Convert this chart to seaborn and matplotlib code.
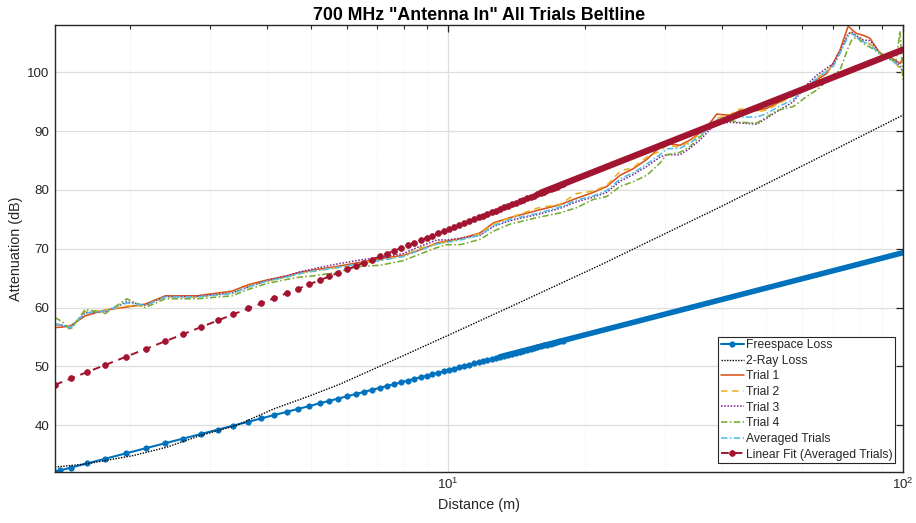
import matplotlib
matplotlib.use("Agg")
import matplotlib.pyplot as plt
import seaborn as sns

# ---------------- data ----------------
# Freespace loss, sample points shown as markers
fs_dist = [1.372, 1.409, 1.488, 1.615, 1.769, 1.967, 2.174, 2.396, 2.624, 2.874,
           3.132, 3.379, 3.645, 3.893, 4.157, 4.440, 4.692, 4.962, 5.245, 5.489,
           5.743, 6.01, 6.28, 6.55, 6.82, 7.09, 7.36, 7.63, 7.90, 8.17,
           8.44, 8.71, 8.98, 9.25, 9.52, 9.79, 10.06, 10.33, 10.60, 10.87,
           11.14, 11.41, 11.68, 11.95, 12.22, 12.49, 12.76, 13.03, 13.30, 13.57,
           13.84, 14.11, 14.38, 14.65, 14.92, 15.19, 15.46, 15.73, 16.00, 16.27,
           16.54, 16.81, 17.08, 17.35, 17.62, 17.89]
fs_loss = [32.10, 32.33, 32.80, 33.51, 34.30, 35.23, 36.10, 36.94, 37.73, 38.52,
           39.27, 39.93, 40.58, 41.16, 41.73, 42.30, 42.78, 43.26, 43.75, 44.14,
           44.53, 44.93, 45.31, 45.67, 46.03, 46.36, 46.69, 47.00, 47.30, 47.59,
           47.88, 48.15, 48.42, 48.67, 48.92, 49.17, 49.40, 49.63, 49.86, 50.07,
           50.29, 50.50, 50.70, 50.90, 51.09, 51.28, 51.47, 51.65, 51.83, 52.00,
           52.17, 52.34, 52.51, 52.67, 52.83, 52.98, 53.13, 53.28, 53.43, 53.58,
           53.72, 53.86, 54.00, 54.14, 54.27, 54.40]
# dense part (markers merge into a solid band)
fs_band_dist = [13.0, 100.0]
fs_band_loss = [51.63, 69.35]

# 2-ray loss
tr_dist = [1.372, 1.613, 2.041, 2.416, 2.860, 3.443, 4.142, 4.986, 5.801,
           7.08, 9.95, 14.13, 21.59, 39.8, 63.1, 100.0]
tr_loss = [32.88, 33.44, 34.85, 36.27, 38.24, 40.00, 42.76, 45.02, 47.00,
           50.00, 55.19, 60.60, 67.22, 77.18, 84.94, 92.76]

# Measured trials
trial_dist = [1.372, 1.424, 1.483, 1.599, 1.769, 1.974, 2.166, 2.396, 2.812, 3.357,
              3.650, 4.006, 4.434, 4.740, 5.070, 5.610, 6.420, 7.101, 7.990, 8.551,
              9.460, 9.950, 10.64, 11.77, 12.59, 13.70, 15.68, 17.64, 19.19, 20.87,
              22.34, 23.89, 25.51, 27.34, 29.24, 30.25, 32.35, 34.02, 35.79, 37.64,
              38.94, 41.64, 43.81, 47.68, 50.13, 52.73, 57.36, 61.38, 64.54, 67.88,
              70.19, 72.61, 75.72, 77.04, 79.00, 81.68, 84.50, 88.89, 93.49, 96.38,
              98.35, 100.0]
trial1 = [56.6, 56.7, 56.9, 58.6, 59.6, 60.1, 60.6, 62.0, 62.0, 62.8,
          63.9, 64.7, 65.4, 66.0, 66.4, 66.9, 67.7, 68.3, 68.9, 69.6,
          71.0, 71.3, 71.7, 72.7, 74.4, 75.3, 76.5, 77.5, 78.6, 79.6,
          80.6, 82.5, 83.6, 85.2, 87.3, 87.9, 87.6, 88.5, 89.7, 91.4,
          92.9, 92.7, 93.5, 93.5, 93.9, 94.7, 96.2, 97.0, 98.7, 99.8,
          101.6, 103.8, 107.9, 107.3, 106.6, 106.3, 105.8, 103.2, 102.6, 102.0,
          101.5, 102.5]
trial2 = [57.0, 57.0, 56.6, 59.3, 59.6, 60.3, 60.3, 61.9, 61.8, 62.5,
          63.6, 64.5, 65.2, 65.8, 66.2, 66.7, 67.4, 68.1, 68.7, 70.0,
          70.8, 71.2, 71.6, 72.6, 74.2, 75.3, 76.9, 77.6, 79.4, 79.8,
          80.8, 83.2, 83.8, 85.6, 86.6, 87.6, 87.3, 88.3, 89.5, 91.0,
          92.2, 92.8, 93.8, 93.3, 93.6, 94.5, 96.0, 97.3, 99.0, 100.2,
          101.2, 103.5, 106.5, 106.8, 106.2, 105.4, 104.8, 103.4, 102.3, 101.5,
          100.5, 99.5]
trial3 = [57.3, 57.0, 56.5, 59.1, 59.3, 61.0, 60.4, 61.9, 61.9, 62.5,
          63.5, 64.6, 65.4, 66.1, 66.6, 67.3, 68.1, 68.5, 69.2, 70.2,
          71.5, 71.5, 71.8, 72.3, 73.8, 74.8, 75.8, 76.9, 78.0, 78.8,
          79.6, 81.5, 82.6, 84.0, 85.6, 86.0, 86.0, 87.1, 88.5, 90.3,
          91.3, 91.5, 91.4, 91.2, 92.2, 93.3, 95.0, 97.9, 99.5, 100.7,
          101.5, 103.5, 106.6, 106.8, 106.2, 105.5, 105.4, 103.3, 102.2, 101.8,
          101.0, 100.0]
trial4 = [58.3, 57.6, 56.2, 59.7, 59.0, 61.5, 60.0, 61.5, 61.5, 62.0,
          63.1, 64.1, 64.8, 65.2, 65.4, 65.9, 67.0, 67.2, 68.0, 68.9,
          70.2, 70.7, 70.7, 71.6, 73.0, 74.2, 75.3, 76.1, 77.0, 78.4,
          78.9, 80.6, 81.4, 82.5, 84.6, 86.0, 86.4, 87.4, 89.0, 90.8,
          91.7, 91.8, 91.5, 91.4, 92.4, 93.5, 94.2, 95.9, 97.0, 98.5,
          99.6, 100.4, 104.2, 105.5, 106.0, 104.9, 104.3, 103.2, 102.3, 101.8,
          107.0, 98.5]
trial_avg = [57.2, 57.0, 56.6, 59.1, 59.4, 60.8, 60.4, 61.8, 61.8, 62.4,
             63.5, 64.5, 65.2, 65.8, 66.2, 66.7, 67.5, 68.0, 68.7, 69.6,
             70.8, 71.1, 71.5, 72.3, 73.9, 75.0, 76.0, 77.1, 78.3, 79.0,
             79.9, 81.9, 82.9, 84.4, 86.0, 87.0, 87.1, 88.0, 89.2, 90.8,
             92.0, 92.2, 92.4, 92.4, 93.0, 94.0, 95.4, 97.4, 99.0, 100.2,
             101.0, 103.2, 106.2, 106.6, 106.0, 105.2, 104.7, 103.1, 102.2, 101.5,
             101.2, 100.5]

# Linear fit of averaged trials (marker points + dense band)
fit_dist = [1.372, 1.488, 1.615, 1.769, 1.967, 2.174, 2.396, 2.624, 2.874, 3.132,
            3.379, 3.645, 3.893, 4.157, 4.440, 4.692, 4.962, 5.245, 5.489, 5.743,
            6.01, 6.28, 6.55, 6.82, 7.09, 7.36, 7.63, 7.90, 8.17, 8.44,
            8.71, 8.98, 9.25, 9.52, 9.79, 10.06, 10.33, 10.60, 10.87, 11.14,
            11.41, 11.68, 11.95, 12.22, 12.49, 12.76, 13.03, 13.30, 13.57, 13.84,
            14.11, 14.38, 14.65, 14.92, 15.19, 15.46, 15.73, 16.00, 16.27, 16.54,
            16.81, 17.08, 17.35, 17.62, 17.89]
fit_loss = [46.87, 47.95, 49.04, 50.25, 51.66, 52.99, 54.28, 55.49, 56.70, 57.84,
            58.85, 59.86, 60.73, 61.61, 62.48, 63.21, 63.96, 64.69, 65.30, 65.90,
            66.50, 67.09, 67.65, 68.18, 68.70, 69.20, 69.68, 70.14, 70.58, 71.02,
            71.43, 71.84, 72.23, 72.62, 72.99, 73.35, 73.70, 74.04, 74.38, 74.70,
            75.02, 75.33, 75.64, 75.93, 76.22, 76.51, 76.79, 77.06, 77.33, 77.59,
            77.85, 78.10, 78.34, 78.59, 78.83, 79.06, 79.29, 79.52, 79.74, 79.96,
            80.17, 80.38, 80.59, 80.80, 81.00]
fit_band_dist = [16.0, 100.0]
fit_band_loss = [79.52, 103.87]

x_ticks = [10, 100]
y_ticks = [40, 50, 60, 70, 80, 90, 100]

# ---------------- style ----------------
sns.set_theme(style="white")
plt.rcParams["font.family"] = ["Liberation Sans", "DejaVu Sans"]
plt.rcParams["mathtext.fontset"] = "custom"
plt.rcParams["mathtext.rm"] = "Liberation Sans"
plt.rcParams["mathtext.it"] = "Liberation Sans"

C_FS = "#0072BD"
C_T1 = "#D95319"
C_T2 = "#EDB120"
C_T3 = "#7E2F8E"
C_T4 = "#77AC30"
C_AV = "#4DBEEE"
C_FIT = "#A2142F"
DARK = "#262626"

fig = plt.figure(figsize=(9.16, 5.23), dpi=100)
ax = fig.add_axes([0.0600, 0.0981, 0.9261, 0.8535])

common = dict(ax=ax, estimator=None, sort=False)

sns.lineplot(x=fs_band_dist, y=fs_band_loss, color=C_FS, linewidth=4.0,
             solid_capstyle="round", label="_nolegend_", legend=False, **common)
sns.lineplot(x=fs_dist, y=fs_loss, color=C_FS, linewidth=1.5, marker="o",
             markersize=3.9, markeredgewidth=0.5, markeredgecolor=C_FS,
             label="Freespace Loss", **common)
sns.lineplot(x=tr_dist, y=tr_loss, color="black", linewidth=1.0, linestyle=(0, (1, 1)),
             label="2-Ray Loss", **common)
sns.lineplot(x=trial_dist, y=trial1, color=C_T1, linewidth=1.15, linestyle="-",
             label="Trial 1", **common)
sns.lineplot(x=trial_dist, y=trial2, color=C_T2, linewidth=1.15, linestyle=(0, (4, 3)),
             label="Trial 2", **common)
sns.lineplot(x=trial_dist, y=trial3, color=C_T3, linewidth=1.15, linestyle=(0, (1, 1)),
             label="Trial 3", **common)
sns.lineplot(x=trial_dist, y=trial4, color=C_T4, linewidth=1.15, linestyle=(0, (4, 1.5, 1, 1.5)),
             label="Trial 4", **common)
sns.lineplot(x=trial_dist, y=trial_avg, color=C_AV, linewidth=1.15, linestyle=(0, (4, 1.5, 1, 1.5)),
             label="Averaged Trials", **common)
sns.lineplot(x=fit_band_dist, y=fit_band_loss, color=C_FIT, linewidth=4.6,
             solid_capstyle="round", label="_nolegend_", legend=False, **common)
sns.lineplot(x=fit_dist, y=fit_loss, color=C_FIT, linewidth=1.4, linestyle=(0, (4, 3)),
             marker="o", markersize=4.2, markeredgewidth=0.5, markeredgecolor=C_FIT,
             label="Linear Fit (Averaged Trials)", **common)

ax.set_xscale("log")
ax.set_xlim(1.372, 100)
ax.set_ylim(32.10, 108.0)
ax.set_xticks(x_ticks)
ax.set_yticks(y_ticks)

ax.grid(True, which="major", color="#dedede", linewidth=0.9)
ax.grid(True, which="minor", axis="x", color="#e4e4e4", linewidth=0.6, linestyle=(0, (1, 2)))
ax.set_axisbelow(True)

for sp in ax.spines.values():
    sp.set_color(DARK)
    sp.set_linewidth(1.0)
    sp.set_visible(True)

ax.tick_params(which="both", direction="in", top=True, right=True, colors=DARK,
               labelsize=9.6, labelcolor=DARK)
ax.tick_params(which="major", length=5, width=0.9, pad=4)
ax.tick_params(which="minor", length=3, width=0.8)
ax.tick_params(axis="y", which="minor", left=False, right=False)

ax.set_xlabel("Distance (m)", fontsize=10.4, color=DARK, labelpad=4)
ax.set_ylabel("Attenuation (dB)", fontsize=10.4, color=DARK, labelpad=3)
ax.set_title('700 MHz "Antenna In" All Trials Beltline', fontsize=12.8,
             fontweight="bold", color="black", pad=4)

leg = ax.legend(loc="lower right", fontsize=8.7, frameon=True, fancybox=False,
                framealpha=1, edgecolor=DARK, handlelength=1.9, handletextpad=0.15,
                labelspacing=0.3, borderpad=0.22, borderaxespad=0.7)
leg.get_frame().set_linewidth(0.8)

fig.savefig("out.png", dpi=100)
